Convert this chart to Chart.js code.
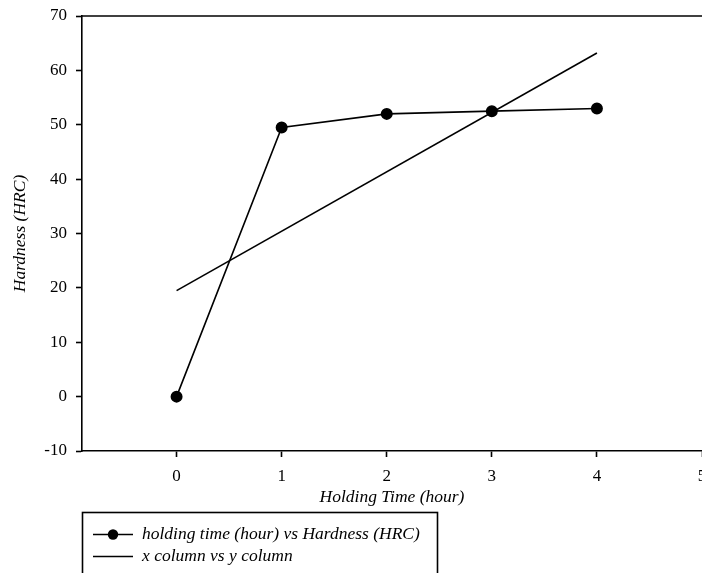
<!DOCTYPE html>
<html><head><meta charset="utf-8">
<script src="https://cdn.jsdelivr.net/npm/chart.js@4/dist/chart.umd.min.js"></script>
<style>
html,body{margin:0;padding:0;background:#fff;overflow:hidden;}
#wrap{position:relative;width:720px;height:573px;}
</style></head><body>
<div id="wrap"><canvas id="c" width="720" height="573"></canvas></div>
<script>
const holdingTime = [0, 1, 2, 3, 4];
const hardness = [0, 49.5, 52.0, 52.5, 53.0];
const fitX = [0, 4];
const fitY = [19.5, 63.2];
const xTickValues = [0, 1, 2, 3, 4, 5];
const seriesLabels = ['holding time (hour) vs Hardness (HRC)', 'x column vs y column'];
const xTitle = 'Holding Time (hour)';
const yTitle = 'Hardness (HRC)';

const FONT = '"Liberation Serif", "Times New Roman", serif';

const legendPlugin = {
  id: 'boxLegend',
  afterDraw(chart) {
    const ctx = chart.ctx;
    const area = chart.chartArea;
    ctx.save();
    ctx.strokeStyle = '#000';
    ctx.lineWidth = 1.6;
    ctx.beginPath();
    ctx.moveTo(area.left, area.top);
    ctx.lineTo(area.right, area.top);
    ctx.stroke();
    const bx = 82.5, by = 512.5, bw = 355, bh = 80;
    ctx.lineWidth = 1.6;
    ctx.strokeRect(bx, by, bw, bh);
    const rows = [534.5, 556.5];
    ctx.font = 'italic 17.5px ' + FONT;
    ctx.textBaseline = 'middle';
    ctx.textAlign = 'left';
    ctx.fillStyle = '#000';
    chart.data.datasets.forEach((ds, i) => {
      const y = rows[i];
      ctx.beginPath();
      ctx.lineWidth = 1.6;
      ctx.moveTo(93, y);
      ctx.lineTo(133, y);
      ctx.stroke();
      if (ds.pointRadius > 0) {
        ctx.beginPath();
        ctx.arc(113, y, 5.2, 0, Math.PI * 2);
        ctx.fill();
      }
      ctx.fillText(ds.label, 142, y);
    });
    ctx.restore();
  }
};

new Chart(document.getElementById('c'), {
  type: 'scatter',
  data: {
    datasets: [
      {
        label: seriesLabels[0],
        data: holdingTime.map((x, i) => ({x, y: hardness[i]})),
        showLine: true,
        borderColor: '#000',
        backgroundColor: '#000',
        borderWidth: 1.6,
        pointRadius: 5.2,
        pointHoverRadius: 5.2,
        pointBackgroundColor: '#000',
        pointBorderColor: '#000',
        tension: 0
      },
      {
        label: seriesLabels[1],
        data: fitX.map((x, i) => ({x, y: fitY[i]})),
        showLine: true,
        borderColor: '#000',
        backgroundColor: '#000',
        borderWidth: 1.6,
        pointRadius: 0,
        pointHoverRadius: 0,
        tension: 0
      }
    ]
  },
  options: {
    responsive: false,
    animation: false,
    events: [],
    layout: {padding: {left: 0, right: 18, top: 16, bottom: 61}},
    plugins: {legend: {display: false}, tooltip: {enabled: false}},
    scales: {
      x: {
        type: 'linear',
        min: -0.9,
        max: 5,
        afterBuildTicks: (s) => { s.ticks = xTickValues.map(v => ({value: v})); },
        afterFit: (s) => { s.height = 61; s.paddingLeft = 0; s.paddingRight = 0; },
        grid: {drawOnChartArea: false, drawTicks: true, tickLength: 6, tickWidth: 1.6, tickColor: '#000'},
        border: {display: true, color: '#000', width: 1.6},
        ticks: {color: '#000', font: {family: FONT, size: 17}, padding: 9, maxRotation: 0, autoSkip: false},
        title: {display: true, text: xTitle, color: '#000', font: {family: FONT, size: 17.5, style: 'italic'}, padding: {top: 0, bottom: 4}}
      },
      y: {
        min: -10,
        max: 70,
        ticks: {stepSize: 10, color: '#000', font: {family: FONT, size: 17}, padding: 9},
        afterFit: (s) => { s.width = 82; s.paddingTop = 0; s.paddingBottom = 0; },
        grid: {drawOnChartArea: false, drawTicks: true, tickLength: 6, tickWidth: 1.6, tickColor: '#000'},
        border: {display: true, color: '#000', width: 1.6},
        title: {display: true, text: yTitle, color: '#000', font: {family: FONT, size: 17.5, style: 'italic'}, padding: {top: 10, bottom: 0}}
      }
    }
  },
  plugins: [legendPlugin]
});
</script>
</body></html>
